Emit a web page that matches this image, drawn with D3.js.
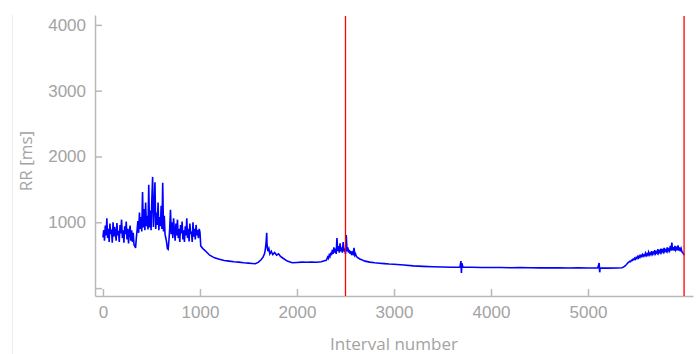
<!DOCTYPE html>
<html>
<head>
<meta charset="utf-8">
<script src="https://cdn.jsdelivr.net/npm/d3@7"></script>
<style>
  body { margin: 0; background: #fff; }
  svg { font-family: "Open Sans", "Noto Sans", sans-serif; }
  .axis text { fill: #a3a3a3; font-size: 17px; }
  .axis path, .axis line { stroke: #b9b9b9; stroke-width: 1.5; }
</style>
</head>
<body>
<svg width="698" height="354"></svg>
<script>
// RR intervals [ms]
// noisy part 0..1000, one value every 8 intervals
var rrStart = 0, rrStep = 8;
var rrEarly = [770, 880, 720, 950, 800, 1060, 760, 900, 700, 980, 820, 890, 690, 1000, 780, 930, 850, 720, 990, 800,
  870, 700, 960, 830, 1040, 760, 880, 690, 940, 820, 1010, 740, 900, 680, 860, 950, 720, 880, 700, 840, 660,
  640, 610, 760,
  880, 1020, 840, 1150, 900, 1080, 860, 1460, 920, 1200, 880, 1300, 940, 1100, 890, 1570, 920, 1180, 880, 1350,
  1690, 930, 1220, 1610, 900, 1150, 960, 1300, 880, 1080, 940, 1250, 900, 1600, 860, 1100, 820, 760, 700,
  600, 590, 720,
  900, 1190, 820, 1000, 760, 1060, 880, 720, 980, 800, 1040, 760, 900, 700, 960, 830, 1010, 740, 880, 700,
  940, 800, 1060, 760, 900, 710, 980, 820, 860, 700, 1000, 780, 900, 740, 960, 800, 880, 760, 900, 850];

// calmer stretch 1000..2300 as [interval, rr]
var rrMid = [[1008, 640], [1030, 600], [1060, 560], [1100, 500], [1150, 460], [1200, 440], [1250, 420], [1300, 410],
  [1350, 400], [1400, 395], [1450, 385], [1500, 380], [1540, 375], [1570, 370], [1600, 390], [1630, 430],
  [1650, 470], [1665, 520], [1675, 600], [1682, 700], [1688, 840], [1692, 640], [1700, 560], [1710, 600],
  [1720, 520], [1735, 560], [1750, 510], [1770, 540], [1790, 500], [1810, 520], [1830, 480], [1860, 450],
  [1900, 410], [1950, 385], [2000, 390], [2050, 395], [2100, 392], [2150, 395], [2200, 393], [2250, 400], [2290, 420]];

// bumpy part 2300..2700, every 8 intervals
var rrBumpStart = 2300;
var rrBump = [420, 440, 470, 450, 500, 480, 540, 500, 580, 520, 620, 540, 600, 520, 760, 560, 640, 540, 680, 560,
  620, 540, 700, 560, 600, 520, 805, 560, 620, 540, 580, 520, 560, 500, 540, 520, 610, 500, 520, 480,
  470, 460, 455, 445, 440, 435, 430, 425, 420, 415, 410];

// long flat stretch 2700..5360
var rrFlat = [[2750, 395], [2800, 385], [2850, 378], [2900, 372], [2950, 366], [3000, 362], [3100, 350], [3200, 338],
  [3300, 330], [3400, 325], [3500, 320], [3600, 318], [3680, 318], [3690, 410], [3695, 230], [3700, 380],
  [3710, 318], [3800, 316], [3900, 314], [4000, 312], [4100, 312], [4200, 310], [4300, 312], [4400, 310],
  [4500, 308], [4600, 310], [4700, 308], [4800, 306], [4900, 308], [5000, 305], [5100, 305], [5115, 380],
  [5120, 240], [5125, 305], [5200, 304], [5300, 306], [5350, 310]];

// rising end 5360..5992, every 8 intervals
var rrLateStart = 5360;
var rrLate = [315, 322, 330, 340, 352, 365, 380, 390, 400, 410, 405, 425, 420, 440, 430, 455, 440, 465, 450, 480,
  460, 490, 470, 495, 480, 510, 485, 505, 490, 530, 495, 520, 500, 545, 505, 530, 510, 560, 515, 540,
  520, 575, 525, 550, 530, 590, 535, 565, 540, 600, 545, 575, 550, 610, 555, 580, 560, 620, 560, 590,
  565, 640, 570, 690, 575, 620, 570, 640, 580, 610, 575, 650, 570, 620, 560, 600, 550, 540, 520, 500];

var markers = [2500, 5990];
var xTicks = [0, 1000, 2000, 3000, 4000, 5000];
var yTicks = [0, 1000, 2000, 3000, 4000];

var series = [];
rrEarly.forEach(function(v, i) { series.push([rrStart + i * rrStep, v]); });
rrMid.forEach(function(d) { series.push(d); });
rrBump.forEach(function(v, i) { series.push([rrBumpStart + i * rrStep, v]); });
rrFlat.forEach(function(d) { series.push(d); });
rrLate.forEach(function(v, i) { series.push([rrLateStart + i * rrStep, v]); });

var svg = d3.select('svg');

var x = d3.scaleLinear().domain([-82, 6082]).range([95, 693]);
var y = d3.scaleLinear().domain([-120, 4150]).range([296, 15]);

// faint frame line on the left
svg.append('line')
  .attr('x1', 12.5).attr('x2', 12.5)
  .attr('y1', 15).attr('y2', 354)
  .attr('stroke', '#ececec');

svg.append('g')
  .attr('class', 'axis')
  .attr('transform', 'translate(0,296)')
  .call(d3.axisBottom(x).tickValues(xTicks).tickFormat(d3.format('d'))
    .tickSizeInner(-7).tickSizeOuter(0).tickPadding(10));

svg.append('g')
  .attr('class', 'axis')
  .attr('transform', 'translate(95,0)')
  .call(d3.axisLeft(y).tickValues(yTicks).tickFormat(function(d) { return d === 0 ? '' : d; })
    .tickSizeInner(-7).tickSizeOuter(0).tickPadding(9));

var line = d3.line()
  .x(function(d) { return x(d[0]); })
  .y(function(d) { return y(d[1]); });

svg.append('path')
  .datum(series)
  .attr('d', line)
  .attr('fill', 'none')
  .attr('stroke', '#0000ff')
  .attr('stroke-width', 1.6);

svg.selectAll('.marker')
  .data(markers)
  .enter()
  .append('line')
  .attr('class', 'marker')
  .attr('x1', function(d) { return x(d); })
  .attr('x2', function(d) { return x(d); })
  .attr('y1', 16)
  .attr('y2', 296)
  .attr('stroke', '#ff0000')
  .attr('stroke-width', 1.3);

svg.append('text')
  .text('Interval number')
  .attr('x', 394)
  .attr('y', 350)
  .attr('text-anchor', 'middle')
  .attr('fill', '#a3a3a3')
  .attr('font-size', 17);

svg.append('text')
  .text('RR [ms]')
  .attr('transform', 'translate(32,161)rotate(-90)')
  .attr('text-anchor', 'middle')
  .attr('fill', '#a3a3a3')
  .attr('font-size', 17);
</script>
</body>
</html>
